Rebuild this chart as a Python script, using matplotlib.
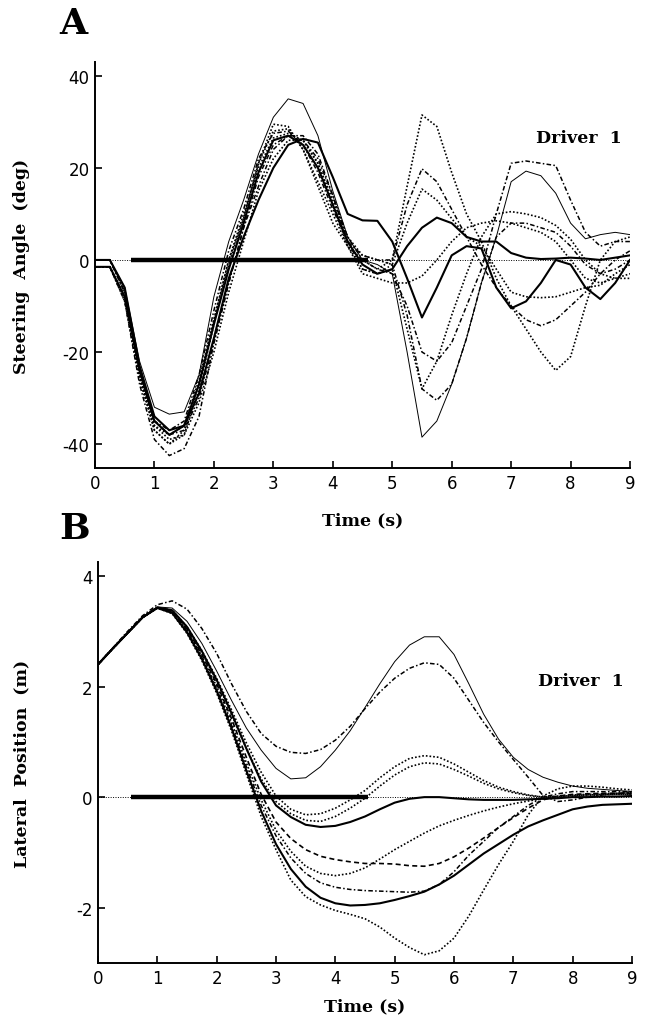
import numpy as np
import matplotlib
matplotlib.use("Agg")
import matplotlib.pyplot as plt

plt.rcParams["axes.unicode_minus"] = False

# Temps (s), mostreig cada 0.25 s
t = np.arange(0, 9.001, 0.25)

# Panell A: angle de volant (graus), un assaig per fila
steer_1 = [0, 0, -6, -22, -32, -33.5, -33, -25, -8, 4, 13, 23, 31, 35, 34, 27, 15, 5, 0,
           -1, -3, -20, -38.5, -35, -27, -17, -5, 5, 17, 19.3, 18.3, 14.5, 8, 4.6, 5.5, 6, 5.5]
steer_2 = [-1.5, -1.5, -9, -26, -37, -40, -38, -28, -14, -1, 9, 21, 29.5, 29, 24, 16, 8, 3, 0,
           -2, 0, 16, 31.5, 29, 19, 10, 4, -4, -10, -15, -20, -24, -21, -10, 0, 4, 5]
steer_3 = [0, 0, -7, -24, -35, -37, -35, -25, -11, 2, 11, 22, 27.5, 28, 25, 19, 11, 4, 1,
           0, 0, 12, 19.8, 17, 11, 5, -1, -6, -10, -13, -14.3, -13, -10, -7, -3, 0, 2]
steer_4 = [-1.5, -1.5, -8, -25, -36, -38, -36, -26, -13, 0, 10, 20, 26.5, 27.5, 26, 21, 13, 5, 1,
           0, -1, 8, 15.4, 13, 9, 5, 3, -2, -7, -8, -8.2, -8, -7, -6, -5.5, -3, -1]
steer_5 = [0, 0, -6, -23, -34, -37, -36, -29, -17, -4, 5, 13, 20, 25, 26.3, 25.5, 18, 10, 8.6,
           8.5, 4, -4, -12.5, -6, 1, 3, 2.5, -6, -10.5, -9, -5, 0, -1, -6, -8.5, -5, 0]
steer_6 = [-1.5, -1.5, -8, -24, -35, -38, -36, -27, -14, -2, 8, 19, 26, 27, 25, 20, 12, 4, -1,
           -3, -2, 3, 7, 9.2, 8, 5, 4, 4, 1.5, 0.5, 0.2, 0.3, 0.5, 0.3, 0, 0.5, 1]
steer_7 = [0, 0, -7, -25, -37, -40, -37, -27, -13, 0, 9, 21, 28, 28.5, 24, 17, 10, 3, -2,
           -3, -2, -15, -28, -22, -12, -3, 5, 10, 10.5, 10, 9.2, 7.5, 4.5, 0, -3, -4, -4]
steer_8 = [-1.5, -1.5, -9, -27, -39, -42.5, -41, -34, -18, -5, 7, 16, 24, 27, 27, 23, 14, 4, -2,
           -3, -1, -12, -28, -30.5, -27, -17, -5, 5, 8, 8, 7, 6, 3, -1, -3, -2, 0]
steer_9 = [0, 0, -7, -24, -35, -38, -37, -30, -18, -5, 7, 18, 25, 27, 26, 22, 14, 5, 0,
           -2, -3, -10, -20, -22, -18, -10, -2, 10, 21, 21.5, 21, 20.5, 13, 6, 3, 4, 4]
steer_10 = [-1.5, -1.5, -8, -25, -36, -39, -38, -31, -20, -7, 4, 15, 22, 26, 26, 21, 12, 3, -3,
            -4, -5, -5, -3.5, 0, 4, 7, 8, 8.5, 8, 7, 6, 4, 0, -4, -5, -4, -3]

# Panell B: posició lateral (m)
lat_1 = [2.40, 2.69, 2.97, 3.25, 3.44, 3.42, 3.18, 2.78, 2.28, 1.75, 1.25, 0.85, 0.52, 0.33, 0.35, 0.55,
         0.85, 1.2, 1.62, 2.05, 2.45, 2.75, 2.9, 2.9, 2.58, 2.05, 1.5, 1.05, 0.72, 0.5, 0.36, 0.27,
         0.2, 0.16, 0.14, 0.12, 0.1]
lat_2 = [2.40, 2.70, 3.00, 3.28, 3.48, 3.55, 3.40, 3.05, 2.6, 2.05, 1.55, 1.15, 0.92, 0.81, 0.79, 0.86,
         1.03, 1.28, 1.6, 1.9, 2.15, 2.33, 2.43, 2.4, 2.15, 1.75, 1.35, 1.0, 0.68, 0.36, 0.03, -0.08,
         -0.05, 0.0, 0.04, 0.07, 0.08]
lat_3 = [2.40, 2.69, 2.97, 3.25, 3.43, 3.38, 3.08, 2.65, 2.15, 1.58, 0.98, 0.45, 0.02, -0.22, -0.32, -0.3,
         -0.2, -0.05, 0.12, 0.35, 0.55, 0.7, 0.75, 0.72, 0.6, 0.45, 0.3, 0.18, 0.1, 0.04, 0.0, 0.02,
         0.04, 0.05, 0.06, 0.07, 0.08]
lat_4 = [2.40, 2.69, 2.97, 3.25, 3.43, 3.37, 3.06, 2.62, 2.1, 1.5, 0.88, 0.33, -0.08, -0.3, -0.42, -0.44,
         -0.35, -0.2, -0.02, 0.2, 0.4, 0.55, 0.62, 0.6, 0.5, 0.38, 0.25, 0.15, 0.08, 0.03, 0.0, 0.01,
         0.03, 0.04, 0.05, 0.05, 0.05]
lat_5 = [2.40, 2.69, 2.97, 3.25, 3.43, 3.38, 3.08, 2.64, 2.12, 1.52, 0.88, 0.28, -0.15, -0.36, -0.5, -0.54,
         -0.52, -0.45, -0.35, -0.22, -0.1, -0.03, 0.0, 0.0, -0.02, -0.04, -0.05, -0.05, -0.05, -0.04, -0.03, -0.02,
         0.0, 0.0, 0.01, 0.01, 0.02]
lat_6 = [2.40, 2.69, 2.97, 3.25, 3.42, 3.35, 3.02, 2.55, 2.0, 1.35, 0.62, -0.05, -0.6, -0.98, -1.25, -1.38,
         -1.42, -1.38, -1.28, -1.12, -0.95, -0.8, -0.65, -0.52, -0.42, -0.33, -0.25, -0.18, -0.12, -0.07, -0.03, 0.0,
         0.02, 0.03, 0.04, 0.05, 0.05]
lat_7 = [2.40, 2.69, 2.97, 3.25, 3.43, 3.36, 3.04, 2.58, 2.05, 1.42, 0.72, 0.05, -0.45, -0.75, -0.95, -1.07,
         -1.13, -1.17, -1.2, -1.2, -1.21, -1.24, -1.25, -1.2, -1.08, -0.92, -0.74, -0.55, -0.37, -0.2, -0.05, 0.02,
         0.05, 0.06, 0.07, 0.07, 0.07]
lat_8 = [2.40, 2.69, 2.97, 3.25, 3.43, 3.34, 3.0, 2.52, 1.95, 1.3, 0.55, -0.15, -0.7, -1.1, -1.38, -1.55,
         -1.63, -1.67, -1.69, -1.7, -1.71, -1.72, -1.7, -1.58, -1.35, -1.05, -0.8, -0.55, -0.35, -0.15, 0.0, 0.06,
         0.1, 0.1, 0.1, 0.1, 0.1]
lat_9 = [2.40, 2.69, 2.97, 3.25, 3.42, 3.33, 2.98, 2.5, 1.92, 1.25, 0.48, -0.25, -0.85, -1.3, -1.62, -1.82,
         -1.92, -1.96, -1.95, -1.92, -1.86, -1.79, -1.71, -1.58, -1.42, -1.22, -1.02, -0.85, -0.68, -0.53, -0.42, -0.32,
         -0.22, -0.17, -0.14, -0.13, -0.12]
lat_10 = [2.40, 2.69, 2.97, 3.25, 3.42, 3.32, 2.96, 2.47, 1.88, 1.2, 0.42, -0.35, -0.95, -1.5, -1.8, -1.95,
          -2.05, -2.12, -2.2, -2.35, -2.55, -2.72, -2.85, -2.78, -2.55, -2.15, -1.68, -1.22, -0.8, -0.32, 0.02, 0.15,
          0.2, 0.2, 0.18, 0.15, 0.13]

# Tram de referència (barra gruixuda a zero)
ref_A = [0.6, 4.6]
ref_B = [0.55, 4.55]

# Estils de traç
thick = dict(color="black", lw=1.5, ls="-")
thin = dict(color="black", lw=0.7, ls="-")
dots = dict(color="black", lw=1.2, ls=(0, (1, 1.2)))
dashdot = dict(color="black", lw=1.1, ls=(0, (3, 1.5, 1, 1.5)))
dashed = dict(color="black", lw=1.2, ls=(0, (3, 2)))

steer_series = [(steer_1, thin), (steer_2, dots), (steer_3, dashdot), (steer_4, dots),
                (steer_5, thick), (steer_6, thick), (steer_7, dots), (steer_8, dashdot),
                (steer_9, dashdot), (steer_10, dots)]
lat_series = [(lat_1, thin), (lat_2, dashdot), (lat_3, dots), (lat_4, dots), (lat_5, thick),
              (lat_6, dots), (lat_7, dashed), (lat_8, dashdot), (lat_9, thick), (lat_10, dots)]

serif_bold = dict(family="DejaVu Serif", fontweight="bold")

fig = plt.figure(figsize=(6.47, 10.2), dpi=100)
axA = fig.add_axes([0.1468, 0.5402, 0.827, 0.398])
axB = fig.add_axes([0.1515, 0.0549, 0.8253, 0.393])


def style_axis(ax, ylim, yticks, xpad):
    ax.set_xlim(0, 9)
    ax.set_ylim(*ylim)
    ax.set_xticks(range(10))
    ax.set_yticks(yticks)
    for s in ["top", "right"]:
        ax.spines[s].set_visible(False)
    for s in ["left", "bottom"]:
        ax.spines[s].set_linewidth(1.4)
    ax.tick_params(direction="in", length=5, width=1.2, labelsize=12, pad=4)
    ax.set_xlabel("Time (s)", fontsize=12.5, labelpad=xpad, **serif_bold)


for ax, series, ref in [(axA, steer_series, ref_A), (axB, lat_series, ref_B)]:
    ax.axhline(0, color="black", lw=0.7, ls=(0, (1, 1.5)))
    ax.plot(ref, [0, 0], color="black", lw=3.2, solid_capstyle="butt")
    for y, st in series:
        ax.plot(t, y, **st)

style_axis(axA, (-45.2, 43), [-40, -20, 0, 20, 40], 14)
style_axis(axB, (-3.0, 4.25), [-2, 0, 2, 4], 8)

axA.set_ylabel("Steering  Angle  (deg)", fontsize=12.5, **serif_bold)
axA.yaxis.set_label_coords(-0.121, 0.5)
axB.set_ylabel("Lateral  Position  (m)", fontsize=12.5, **serif_bold)
axB.yaxis.set_label_coords(-0.127, 0.5)

axA.text(0.905, 0.815, "Driver  1", transform=axA.transAxes, ha="center", va="center",
         fontsize=12.5, **serif_bold)
axB.text(0.905, 0.705, "Driver  1", transform=axB.transAxes, ha="center", va="center",
         fontsize=12.5, **serif_bold)

fig.text(0.114, 0.976, "A", fontsize=26, ha="center", va="center", **serif_bold)
fig.text(0.116, 0.481, "B", fontsize=26, ha="center", va="center", **serif_bold)

fig.savefig("out.png", dpi=100)
